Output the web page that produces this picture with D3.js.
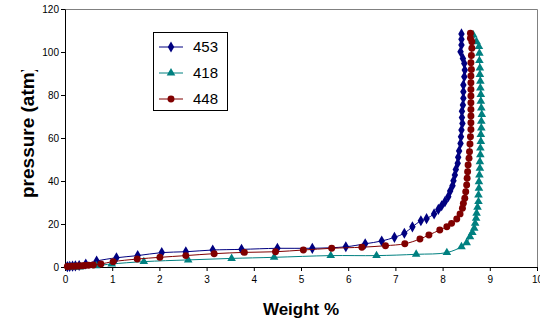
<!DOCTYPE html>
<html>
<head>
<meta charset="utf-8">
<script src="https://cdn.jsdelivr.net/npm/d3@7"></script>
<style>
  body { margin: 0; background: #fff; }
  text { font-family: Arial, "Liberation Sans", sans-serif; }
</style>
</head>
<body>
<svg width="540" height="320"></svg>
<script>
// series 453
var wt453 = [0.05,0.1,0.16,0.22,0.3,0.44,0.67,1.09,1.54,2.05,2.56,3.13,3.74,4.5,5.24,5.95,6.36,6.71,6.98,7.19,7.36,7.54,7.66,7.82,7.91,7.98,8.05,8.12,8.16,8.21,8.23,8.26,8.28,8.32,8.33,8.35,8.38,8.39,8.4,8.42,8.41,8.41,8.43,8.44,8.44,8.44,8.46,8.47,8.46,8.43,8.38,8.4,8.4,8.4];
var p453  = [0.2,0.3,0.4,0.5,0.7,1.4,2.8,4.3,5.3,6.7,7.1,7.9,8.2,8.7,8.7,9.4,10.8,12.1,13.8,15.7,18.7,21.5,22.5,24.7,26.8,28.5,30.4,32.7,35.3,37.8,40.1,42.8,45.4,48.2,51,54,57.5,60.6,63.7,66.8,69.5,72.5,75.3,78.5,81.5,84.7,88.5,91.6,94.7,97,100.1,103.3,105.9,108.4];
// series 418
var wt418 = [0.1,0.2,0.32,0.66,0.99,1.67,2.61,3.53,4.43,5.63,6.6,7.44,8.09,8.4,8.51,8.58,8.63,8.67,8.69,8.71,8.72,8.74,8.76,8.76,8.77,8.77,8.78,8.79,8.79,8.8,8.8,8.81,8.81,8.82,8.82,8.83,8.82,8.81,8.81,8.8,8.8,8.79,8.79,8.78,8.78,8.77,8.72,8.65];
var p418  = [0,0,0,0.6,1.4,2.5,3.3,4.0,4.5,5.3,5.3,5.9,6.7,9.4,11.3,14.1,16,18,20.3,22.7,25,27.8,30.4,33.5,36.6,39.7,42.8,45.9,49,52.2,55.3,58.4,61.6,64.7,67.8,70.9,74,77.1,80.2,83.3,86.4,89.5,92.6,96,99.4,102.5,104.8,107.9];
// series 448
var wt448 = [0.05,0.1,0.15,0.2,0.25,0.3,0.36,0.42,0.5,0.6,0.76,1.02,1.53,2.01,2.56,3.16,3.8,4.46,5.05,5.65,6.29,6.79,7.2,7.52,7.71,7.94,8.09,8.19,8.3,8.37,8.42,8.44,8.47,8.49,8.51,8.52,8.53,8.54,8.56,8.57,8.58,8.59,8.6,8.6,8.6,8.6,8.6,8.6,8.6,8.6,8.6,8.61,8.6,8.61,8.62,8.62,8.59,8.59];
var p448  = [0.2,0.3,0.4,0.4,0.5,0.5,0.6,0.7,0.8,0.9,1.4,2.5,3.7,4.5,5.3,6.2,6.8,7.1,7.9,8.7,9.2,9.9,10.8,13,14.9,17.2,18.7,20.3,22.3,24.7,27.3,29.6,32,35,38.1,41.3,44.3,47.4,50.6,53.6,57.2,60.6,64,67.1,70.2,73.3,76.4,79.5,82.6,85.7,88.8,91.9,95,98.4,101.7,104.8,106.4,108.7];

var seriesNames = ["453", "418", "448"];
var seriesColors = ["#000080", "#008080", "#800000"];
var xTicks = [0,1,2,3,4,5,6,7,8,9,10];
var yTicks = [0,20,40,60,80,100,120];

var svg = d3.select("svg");
var mLeft = 65, mRight = 537, mTop = 9, mBottom = 267;

var x = d3.scaleLinear().domain([0, 10]).range([mLeft, mRight]);
var y = d3.scaleLinear().domain([0, 120]).range([mBottom, mTop]);

// plot frame (top/right grey)
svg.append("path")
    .attr("d", "M" + mLeft + "," + (mTop + 0.5) + "H" + (mRight + 0.5) + "V" + mBottom)
    .attr("fill", "none")
    .attr("stroke", "#808080");

var xAxis = svg.append("g")
    .attr("transform", "translate(0," + mBottom + ")")
    .call(d3.axisBottom(x).tickValues(xTicks).tickSize(4).tickSizeOuter(0).tickFormat(d3.format("d")));
var yAxis = svg.append("g")
    .attr("transform", "translate(" + mLeft + ",0)")
    .call(d3.axisLeft(y).tickValues(yTicks).tickSize(4).tickSizeOuter(0).tickFormat(d3.format("d")));

[xAxis, yAxis].forEach(function(g){
    g.select(".domain").attr("stroke", "#000");
    g.selectAll(".tick line").attr("stroke", "#000");
    g.selectAll(".tick text").attr("fill", "#000").style("font-size", "10px")
        .style("font-family", "Arial, 'Liberation Sans', sans-serif");
});
xAxis.selectAll(".tick text").attr("dy", "0.9em");
yAxis.selectAll(".tick text").attr("x", -6);

var data = [
    {name: seriesNames[0], wt: wt453, p: p453, sym: d3.symbolDiamond, size: 36},
    {name: seriesNames[1], wt: wt418, p: p418, sym: d3.symbolTriangle, size: 32},
    {name: seriesNames[2], wt: wt448, p: p448, sym: d3.symbolCircle, size: 38}
];

var line = d3.line()
    .x(function(d){ return x(d[0]); })
    .y(function(d){ return y(d[1]); })
    .curve(d3.curveCatmullRom.alpha(0.5));

data.forEach(function(s, i){
    var pts = s.wt.map(function(w, j){ return [w, s.p[j]]; });
    svg.append("path")
        .datum(pts)
        .attr("d", line)
        .attr("fill", "none")
        .attr("stroke", seriesColors[i])
        .attr("stroke-width", 1);
    svg.selectAll(".m" + i)
        .data(pts)
        .enter().append("path")
        .attr("class", "m" + i)
        .attr("transform", function(d){ return "translate(" + x(d[0]) + "," + y(d[1]) + ")"; })
        .attr("d", d3.symbol().type(s.sym).size(s.size))
        .attr("fill", seriesColors[i]);
});

// legend
var lg = svg.append("g");
lg.append("rect")
    .attr("x", 153.5).attr("y", 32.5).attr("width", 74).attr("height", 78)
    .attr("fill", "#fff").attr("stroke", "#000");
data.forEach(function(s, i){
    var ly = 47 + i * 26;
    lg.append("line")
        .attr("x1", 159).attr("x2", 183).attr("y1", ly).attr("y2", ly)
        .attr("stroke", seriesColors[i]);
    lg.append("path")
        .attr("transform", "translate(171," + ly + ")")
        .attr("d", d3.symbol().type(s.sym).size(s.size))
        .attr("fill", seriesColors[i]);
    lg.append("text")
        .attr("x", 193).attr("y", ly + 5)
        .style("font-size", "15px")
        .text(s.name);
});

// axis titles
svg.append("text")
    .attr("x", 301).attr("y", 315)
    .attr("text-anchor", "middle")
    .style("font-size", "17px").style("font-weight", "bold")
    .text("Weight %");

// y title is clipped at the top in the original
svg.append("clipPath").attr("id", "tclip")
    .append("rect").attr("x", 0).attr("y", 70).attr("width", 60).attr("height", 200);
svg.append("g")
    .attr("clip-path", "url(#tclip)")
  .append("text")
    .attr("transform", "translate(34,198) rotate(-90)")
    .style("font-size", "19px").style("font-weight", "bold")
    .text("pressure (atm)");
</script>
</body>
</html>
